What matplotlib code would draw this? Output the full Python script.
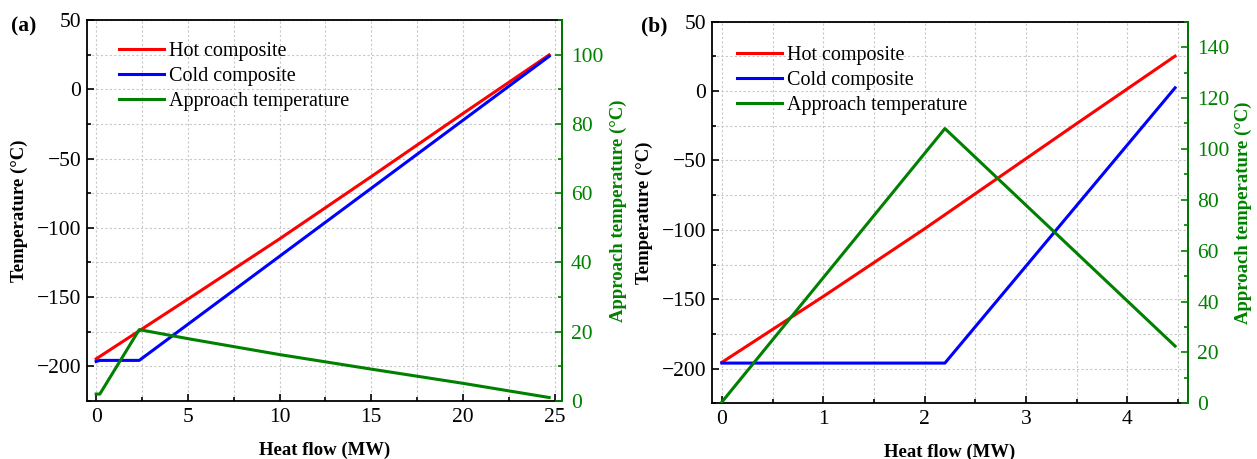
import matplotlib
matplotlib.use("Agg")
import matplotlib.pyplot as plt
from matplotlib.ticker import MultipleLocator

plt.rcParams['font.family'] = ['Liberation Serif', 'DejaVu Serif']

# ---- Panel (a) data ----
a_hot_x = [0, 5, 10, 15, 20, 24.7]
a_hot_y = [-194.6, -151.5, -108, -63, -17.5, 24.8]
a_cold_x = [0, 0.2, 2.35, 24.7]
a_cold_y = [-196.5, -195.7, -195.7, 23.8]
a_app_x = [0, 0.2, 2.35, 5, 10, 15, 20, 24.7]
a_app_y = [2.0, 2.0, 20.6, 18.0, 13.4, 9.2, 5.1, 1.0]

# ---- Panel (b) data ----
b_hot_x = [0, 1, 2, 3.5, 4.47]
b_hot_y = [-195.5, -148.0, -99.2, -23.4, 25.2]
b_cold_x = [0, 2.2, 4.47]
b_cold_y = [-196, -196, 2.35]
b_app_x = [0, 2.2, 4.47]
b_app_y = [0.5, 108, 22.5]

labels = ['Hot composite', 'Cold composite', 'Approach temperature']
colors = ['#ff0000', '#0000ff', '#008000']

TICK_FS = 15.5
LABEL_FS = 13.5
LEG_FS = 14.5

fig = plt.figure(figsize=(12.57, 4.59), dpi=100)

def make_panel(rect, hx, hy, cx, cy, ax_x, ax_y, xlim, xmaj, xmin, r_ylim,
               tag, tagx, lablx, rlabx, leg_anchor):
    ax = fig.add_axes(rect)
    l1, = ax.plot(hx, hy, color=colors[0], lw=2.2, label=labels[0])
    l2, = ax.plot(cx, cy, color=colors[1], lw=2.2, label=labels[1])
    ax.set_xlim(*xlim)
    ax.set_ylim(-225, 50)
    ax.xaxis.set_major_locator(MultipleLocator(xmaj))
    ax.xaxis.set_minor_locator(MultipleLocator(xmin))
    ax.yaxis.set_major_locator(MultipleLocator(50))
    ax.yaxis.set_minor_locator(MultipleLocator(25))
    ax.grid(True, which='both', color='#c8c8c8', linestyle=(0, (2, 2)), lw=0.8)
    ax.tick_params(which='both', direction='in', labelsize=TICK_FS, width=1.2, right=False, top=False)
    ax.tick_params(axis='x', which='both', pad=5)
    ax.tick_params(axis='y', which='both', pad=4)
    ax.tick_params(which='major', length=5)
    ax.tick_params(which='minor', length=2.8)
    for s in ax.spines.values():
        s.set_linewidth(1.3)
    ax.set_xlabel('Heat flow (MW)', fontsize=LABEL_FS, fontweight='bold', labelpad=10.5)
    ax.set_ylabel('Temperature (°C)', fontsize=LABEL_FS, fontweight='bold')
    ax.yaxis.set_label_coords(lablx, 0.5)

    tw = ax.twinx()
    l3, = tw.plot(ax_x, ax_y, color=colors[2], lw=2.2, label=labels[2])
    tw.set_ylim(*r_ylim)
    tw.yaxis.set_major_locator(MultipleLocator(20))
    tw.yaxis.set_minor_locator(MultipleLocator(10))
    tw.tick_params(which='both', direction='in', labelsize=TICK_FS, width=1.2, colors=colors[2], pad=6.5)
    tw.tick_params(which='major', length=5)
    tw.tick_params(which='minor', length=2.8)
    tw.spines['right'].set_color(colors[2])
    tw.spines['right'].set_linewidth(1.3)
    tw.spines['left'].set_visible(False)
    tw.spines['top'].set_visible(False)
    tw.spines['bottom'].set_visible(False)
    tw.set_ylabel('Approach temperature (°C)', fontsize=LABEL_FS, fontweight='bold', color=colors[2])
    tw.yaxis.set_label_coords(rlabx, 0.5)

    tw.legend(handles=[l1, l2, l3], loc='upper left', frameon=False, fontsize=LEG_FS,
              handlelength=2.25, handletextpad=0.25, labelspacing=0.29,
              bbox_to_anchor=leg_anchor)
    fig.text(tagx, 0.942, tag, fontsize=15.5, fontweight='bold', ha='left', va='center')
    return ax, tw

make_panel([0.0692, 0.1264, 0.3779, 0.8300], a_hot_x, a_hot_y, a_cold_x, a_cold_y, a_app_x, a_app_y,
           (-0.5, 25.4), 5, 2.5, (0, 110), '(a)', 0.009, -0.124, 1.101, (0.0295, 0.989))
make_panel([0.5662, 0.1213, 0.3791, 0.8314], b_hot_x, b_hot_y, b_cold_x, b_cold_y, b_app_x, b_app_y,
           (-0.1, 4.6), 1, 0.5, (0, 150), '(b)', 0.510, -0.123, 1.098, (0.015, 0.984))

fig.savefig('out.png', dpi=100)
